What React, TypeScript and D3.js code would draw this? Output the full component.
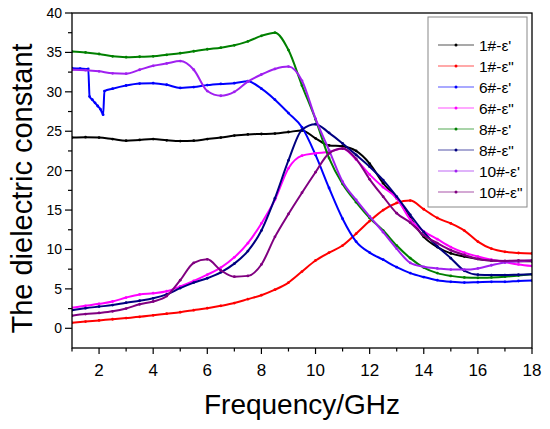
import React from "react";
import * as d3 from "d3";

// Shared frequency grid (GHz)
const freq = [1, 1.5, 2, 2.5, 3, 3.5, 4, 4.5, 5, 5.5, 6, 6.5, 7, 7.5, 8, 8.5, 9, 9.5, 10, 10.5, 11, 11.5, 12, 12.5, 13, 13.5, 14, 14.5, 15, 15.5, 16, 16.5, 17, 17.5, 18];

// Sample 6 epsilon' has its own grid (glitch near 2 GHz)
const freq6Real = [1, 1.3, 1.6, 1.65, 1.75, 1.85, 1.95, 2.05, 2.15, 2.2, 2.5, 3, 3.5, 4, 4.5, 5, 5.5, 6, 6.5, 7, 7.5, 8, 8.5, 9, 9.5, 10, 10.5, 11, 11.5, 12, 12.5, 13, 13.5, 14, 14.5, 15, 15.5, 16, 16.5, 17, 17.5, 18];

const s1Real = [24.2, 24.25, 24.2, 24.0, 23.8, 23.9, 24.0, 23.85, 23.75, 23.8, 24.0, 24.2, 24.45, 24.6, 24.65, 24.7, 24.9, 25.1, 24.1, 23.2, 23.1, 22.5, 20.9, 18.4, 16.5, 14.0, 11.6, 10.3, 9.5, 9.1, 8.8, 8.6, 8.5, 8.5, 8.5];
const s1Imag = [0.7, 0.85, 1.0, 1.15, 1.3, 1.45, 1.65, 1.85, 2.05, 2.3, 2.55, 2.85, 3.2, 3.7, 4.2, 4.9, 5.8, 7.2, 8.6, 9.6, 10.5, 12.0, 13.6, 15.0, 15.9, 16.2, 15.1, 14.0, 13.3, 12.4, 11.0, 10.1, 9.7, 9.55, 9.5];
const s6Real = [33.0, 32.95, 32.9, 29.4, 29.0, 28.6, 28.2, 27.8, 27.1, 30.1, 30.4, 30.8, 31.05, 31.1, 30.9, 30.5, 30.6, 30.85, 31.0, 31.1, 31.35, 30.4, 29.0, 27.3, 25.5, 22.0, 17.8, 13.9, 11.0, 9.6, 8.7, 7.75, 7.0, 6.5, 6.1, 5.9, 5.8, 5.85, 5.9, 5.9, 6.0, 6.05];
const s6Imag = [2.6, 2.85, 3.1, 3.4, 3.9, 4.3, 4.45, 4.7, 5.3, 6.0, 6.8, 7.7, 9.0, 10.8, 13.3, 16.3, 20.3, 21.9, 22.2, 22.4, 22.8, 21.4, 19.5, 17.9, 16.5, 13.8, 12.3, 11.3, 10.3, 9.6, 9.1, 8.7, 8.4, 8.1, 7.9];
const s8Real = [35.1, 35.0, 34.8, 34.5, 34.4, 34.45, 34.5, 34.7, 34.9, 35.15, 35.4, 35.6, 35.9, 36.4, 37.1, 37.5, 35.3, 30.8, 26.5, 21.6, 18.3, 16.0, 14.0, 12.4, 10.5, 8.9, 7.7, 7.0, 6.65, 6.45, 6.4, 6.45, 6.55, 6.7, 6.85];
const s8Imag = [2.3, 2.55, 2.75, 2.95, 3.25, 3.5, 3.8, 4.3, 5.1, 5.8, 6.35, 7.1, 8.2, 9.8, 12.4, 16.5, 21.3, 25.2, 25.9, 24.8, 23.45, 22.0, 20.5, 18.8, 16.7, 14.4, 12.2, 10.4, 8.9, 7.3, 6.8, 6.75, 6.75, 6.8, 6.85];
const s10Real = [32.8, 32.75, 32.6, 32.35, 32.3, 32.8, 33.3, 33.6, 33.9, 32.8, 30.1, 29.5, 30.0, 31.3, 32.2, 32.9, 33.2, 31.4, 26.6, 22.6, 18.6, 16.3, 14.2, 12.2, 10.1, 8.3, 7.8, 7.6, 7.45, 7.45, 7.6, 8.0, 8.35, 8.5, 8.6];
const s10Imag = [1.6, 1.8, 1.95, 2.15, 2.5, 3.05, 3.4, 4.1, 6.1, 8.3, 8.75, 7.35, 6.55, 6.65, 8.1, 11.6, 14.5, 17.2, 19.8, 22.2, 22.8, 21.5, 18.9, 16.7, 14.6, 13.4, 11.8, 10.8, 9.9, 9.3, 8.8, 8.6, 8.55, 8.6, 8.6];

const seriesNames = ["1#-ε'", '1#-ε"', "6#-ε'", '6#-ε"', "8#-ε'", '8#-ε"', "10#-ε'", '10#-ε"'];
const seriesColors = ["#000000", "#ff0000", "#0000ff", "#ff00ff", "#008000", "#000080", "#a020f0", "#800080"];
const seriesFreqs = [freq, freq, freq6Real, freq, freq, freq, freq, freq];
const seriesValues = [s1Real, s1Imag, s6Real, s6Imag, s8Real, s8Imag, s10Real, s10Imag];

const xMajor = [2, 4, 6, 8, 10, 12, 14, 16, 18];
const xMinor = [1, 3, 5, 7, 9, 11, 13, 15, 17];
const yMajor = [0, 5, 10, 15, 20, 25, 30, 35, 40];
const yMinor = [2.5, 7.5, 12.5, 17.5, 22.5, 27.5, 32.5, 37.5];

const W = 550;
const H = 429;
const L = 72, R = 532, T = 13, B = 348;
const FONT = "Arial, 'Liberation Sans', Helvetica, sans-serif";

export default function App() {
  const x = d3.scaleLinear().domain([1, 18]).range([L, R]);
  const y = d3.scaleLinear().domain([-2.5, 40]).range([B, T]);
  const line = d3
    .line<[number, number]>()
    .x((d) => x(d[0]))
    .y((d) => y(d[1]))
    .curve(d3.curveMonotoneX);

  const legendX0 = 428, legendY0 = 17, legendW = 99, legendH = 190;

  return (
    <svg
      width={W}
      height={H}
      style={{ position: "absolute", left: 0, top: 0, background: "#fff" }}
      fontFamily={FONT}
    >
      <rect x={0} y={0} width={W} height={H} fill="#fff" />
      <defs>
        <clipPath id="plotclip">
          <rect x={L} y={T} width={R - L} height={B - T} />
        </clipPath>
      </defs>

      <g clipPath="url(#plotclip)">
        {seriesValues.map((vals, i) => {
          const pts: [number, number][] = vals.map((v, k) => [seriesFreqs[i][k], v]);
          return (
            <g key={i}>
              <path d={line(pts) || ""} fill="none" stroke={seriesColors[i]} strokeWidth={2} />
              {pts.map((p, k) => (
                <circle key={k} cx={x(p[0])} cy={y(p[1])} r={1.4} fill={seriesColors[i]} />
              ))}
            </g>
          );
        })}
      </g>

      {/* frame */}
      <rect x={L} y={T} width={R - L} height={B - T} fill="none" stroke="#000" strokeWidth={1.3} />

      {/* x ticks */}
      {xMajor.map((v) => (
        <g key={"xM" + v}>
          <line x1={x(v)} x2={x(v)} y1={B} y2={B + 6} stroke="#000" strokeWidth={1.2} />
          <text x={x(v)} y={B + 28} textAnchor="middle" fontSize={17} fill="#000">
            {v}
          </text>
        </g>
      ))}
      {xMinor.map((v) => (
        <line key={"xm" + v} x1={x(v)} x2={x(v)} y1={B} y2={B + 3.5} stroke="#000" strokeWidth={1.2} />
      ))}

      {/* y ticks */}
      {yMajor.map((v) => (
        <g key={"yM" + v}>
          <line x1={L - 7} x2={L} y1={y(v)} y2={y(v)} stroke="#000" strokeWidth={1.2} />
          <text x={L - 10} y={y(v) + 5} textAnchor="end" fontSize={14} fill="#000">
            {v}
          </text>
        </g>
      ))}
      {yMinor.map((v) => (
        <line key={"ym" + v} x1={L - 4} x2={L} y1={y(v)} y2={y(v)} stroke="#000" strokeWidth={1.2} />
      ))}

      {/* axis titles */}
      <text x={302} y={414} textAnchor="middle" fontSize={28} fill="#000">
        Frequency/GHz
      </text>
      <text
        transform={`translate(32, ${(T + B) / 2 + 8}) rotate(-90)`}
        textAnchor="middle"
        fontSize={29}
        fill="#000"
      >
        The dielectric constant
      </text>

      {/* legend */}
      <rect x={legendX0} y={legendY0} width={legendW} height={legendH} fill="#fff" stroke="#888" strokeWidth={1} />
      {seriesNames.map((name, i) => {
        const ly = 45 + i * 21;
        return (
          <g key={"lg" + i}>
            <line x1={438} x2={474} y1={ly} y2={ly} stroke={seriesColors[i]} strokeOpacity={0.45} strokeWidth={1.6} />
            <circle cx={456} cy={ly} r={1.5} fill={seriesColors[i]} />
            <text x={479} y={ly + 5.5} fontSize={15.5} fill="#000">
              {name}
            </text>
          </g>
        );
      })}
    </svg>
  );
}
